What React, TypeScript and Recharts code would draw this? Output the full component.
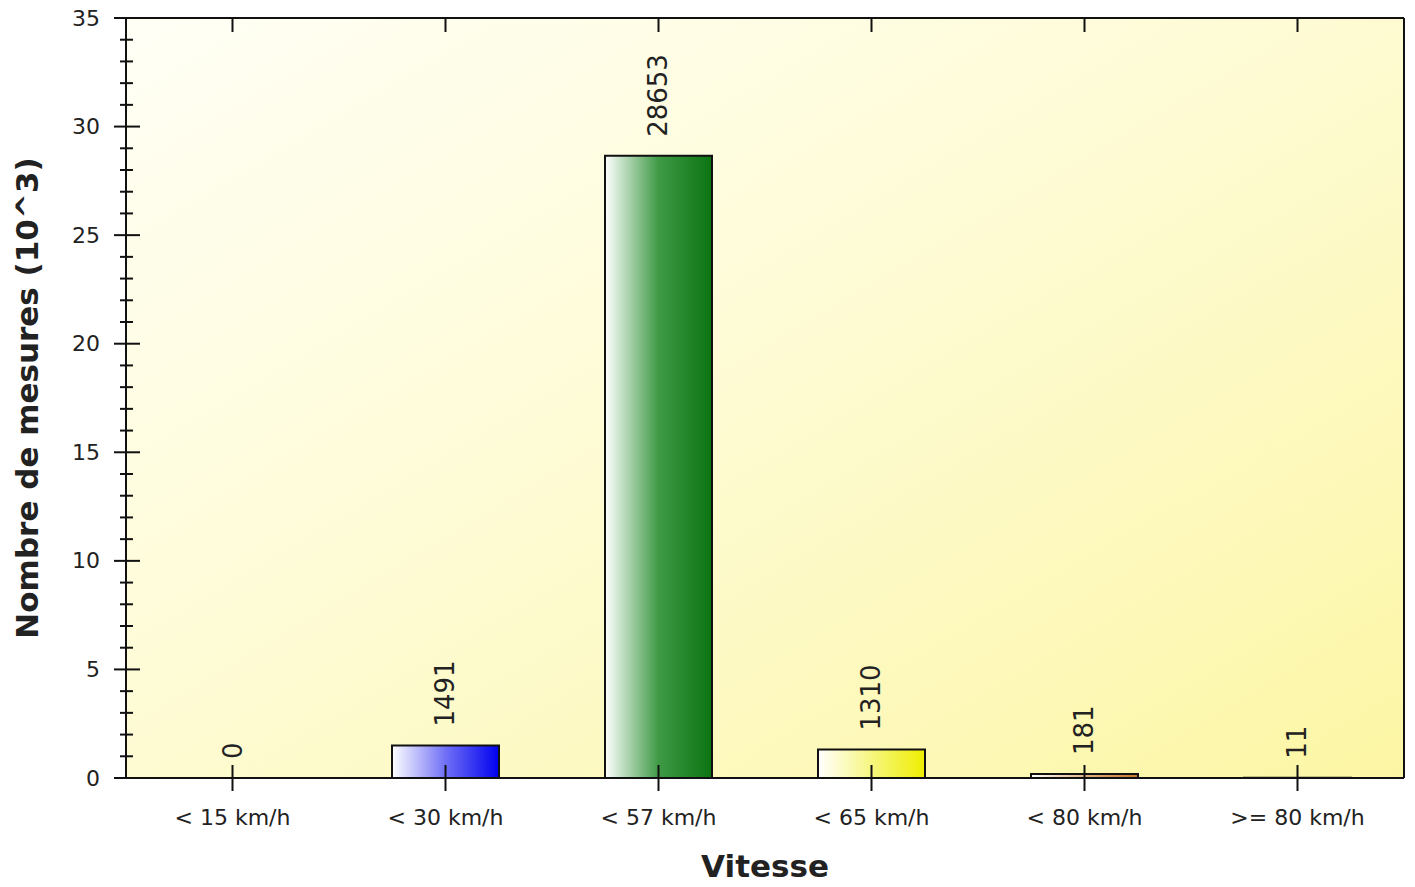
import React from 'react';
import {
  ComposedChart,
  Bar,
  Line,
  XAxis,
  YAxis,
  CartesianGrid,
  Cell,
  LabelList,
  Label,
} from 'recharts';

const categories = ['< 15 km/h', '< 30 km/h', '< 57 km/h', '< 65 km/h', '< 80 km/h', '>= 80 km/h'];
const counts = [0, 1491, 28653, 1310, 181, 11];
const barColors = ['#e01010', '#0000ee', '#0b7412', '#eeee00', '#c8782c', '#d02020'];
const barMidColors = ['#f08080', '#7070f6', '#3f9a46', '#f6f680', '#e2b488', '#e88080'];
const yTicks = [0, 1, 2, 3, 4, 5, 6, 7, 8, 9, 10, 11, 12, 13, 14, 15, 16, 17, 18, 19, 20, 21, 22, 23, 24, 25, 26, 27, 28, 29, 30, 31, 32, 33, 34, 35];

const data = categories.map((c, i) => ({ name: c, count: counts[i], k: counts[i] / 1000 }));

const W = 1415;
const H = 887;
const LEFT = 126;
const RIGHT = 1404;
const TOP = 18;
const BOTTOM = 778;
const FONT = '"DejaVu Sans", sans-serif';
const TXT = '#222';

const LeftTick = (props: any) => {
  const { y, payload } = props;
  const major = payload.value % 5 === 0;
  return (
    <g>
      <line x1={LEFT - (major ? 12 : 6)} x2={LEFT + (major ? 14 : 7)} y1={y} y2={y} stroke="#111" strokeWidth={2} />
      {major && (
        <text x={100} y={y} textAnchor="end" dominantBaseline="central" fontFamily={FONT} fontSize={22} fill={TXT}>
          {payload.value}
        </text>
      )}
    </g>
  );
};

const RightTick = (props: any) => {
  const { y, payload } = props;
  const major = payload.value % 5 === 0;
  return <line x1={RIGHT - (major ? 12 : 6)} x2={RIGHT} y1={y} y2={y} stroke="#111" strokeWidth={2} />;
};

const BottomTick = (props: any) => {
  const { x, payload } = props;
  return (
    <g>
      <line x1={x} x2={x} y1={BOTTOM - 13} y2={BOTTOM + 13} stroke="#111" strokeWidth={2} />
      <text x={x} y={817} textAnchor="middle" dominantBaseline="central" fontFamily={FONT} fontSize={22} fill={TXT}>
        {payload.value}
      </text>
    </g>
  );
};

const TopTick = (props: any) => {
  const { x } = props;
  return <line x1={x} x2={x} y1={TOP} y2={TOP + 14} stroke="#111" strokeWidth={2} />;
};

const ValueLabel = (props: any) => {
  const { x, y, value } = props;
  const cx = Number(x);
  const ty = Number(y) - 19;
  return (
    <text
      x={cx}
      y={ty}
      transform={`rotate(-90 ${cx} ${ty})`}
      textAnchor="start"
      dominantBaseline="central"
      fontFamily={FONT}
      fontSize={26}
      fill={TXT}
    >
      {value}
    </text>
  );
};

export default function App() {
  return (
    <div style={{ position: 'absolute', left: 0, top: 0, background: '#fff' }}>
      <ComposedChart width={W} height={H} data={data} margin={{ top: TOP - 1, right: W - RIGHT - 1, bottom: 0, left: 0 }}>
        <defs>
          <linearGradient id="bg" x1="0" y1="0" x2="1" y2="1">
            <stop offset="0%" stopColor="#fffff6" />
            <stop offset="50%" stopColor="#fefbd2" />
            <stop offset="100%" stopColor="#fcf6a4" />
          </linearGradient>
          {barColors.map((c, i) => (
            <linearGradient key={i} id={`bar${i}`} x1="0" y1="0" x2="1" y2="0">
              <stop offset="0%" stopColor="#ffffff" />
              <stop offset="50%" stopColor={barMidColors[i]} />
              <stop offset="100%" stopColor={c} />
            </linearGradient>
          ))}
        </defs>
        <CartesianGrid horizontal={false} vertical={false} fill="url(#bg)" />
        <XAxis
          dataKey="name"
          height={H - BOTTOM}
          axisLine={{ stroke: '#111', strokeWidth: 2 }}
          tickLine={false}
          tick={<BottomTick />}
          interval={0}
        >
          <Label
            content={() => (
              <text x={(LEFT + RIGHT) / 2} y={866} textAnchor="middle" dominantBaseline="central" fontFamily={FONT} fontWeight="bold" fontSize={31} fill={TXT}>
                Vitesse
              </text>
            )}
          />
        </XAxis>
        <XAxis
          xAxisId="top"
          dataKey="name"
          orientation="top"
          height={1}
          axisLine={{ stroke: '#111', strokeWidth: 2 }}
          tickLine={false}
          tick={<TopTick />}
          interval={0}
        />
        <YAxis
          width={LEFT}
          domain={[0, 35]}
          ticks={yTicks}
          interval={0}
          axisLine={{ stroke: '#111', strokeWidth: 2 }}
          tickLine={false}
          tick={<LeftTick />}
        >
          <Label
            content={() => (
              <text
                x={27}
                y={398}
                transform={`rotate(-90 27 398)`}
                textAnchor="middle"
                dominantBaseline="central"
                fontFamily={FONT}
                fontWeight="bold"
                fontSize={31}
                fill={TXT}
              >
                Nombre de mesures (10^3)
              </text>
            )}
          />
        </YAxis>
        <YAxis
          yAxisId="right"
          orientation="right"
          width={1}
          domain={[0, 35]}
          ticks={yTicks}
          interval={0}
          axisLine={{ stroke: '#111', strokeWidth: 2 }}
          tickLine={false}
          tick={<RightTick />}
        />
        <Bar dataKey="k" barSize={107} stroke="#111" strokeWidth={2} isAnimationActive={false}>
          {data.map((d, i) => (
            <Cell key={d.name} fill={`url(#bar${i})`} />
          ))}
        </Bar>
        <Line dataKey="k" stroke="none" dot={false} activeDot={false} isAnimationActive={false}>
          <LabelList dataKey="count" content={<ValueLabel />} />
        </Line>
      </ComposedChart>
    </div>
  );
}
